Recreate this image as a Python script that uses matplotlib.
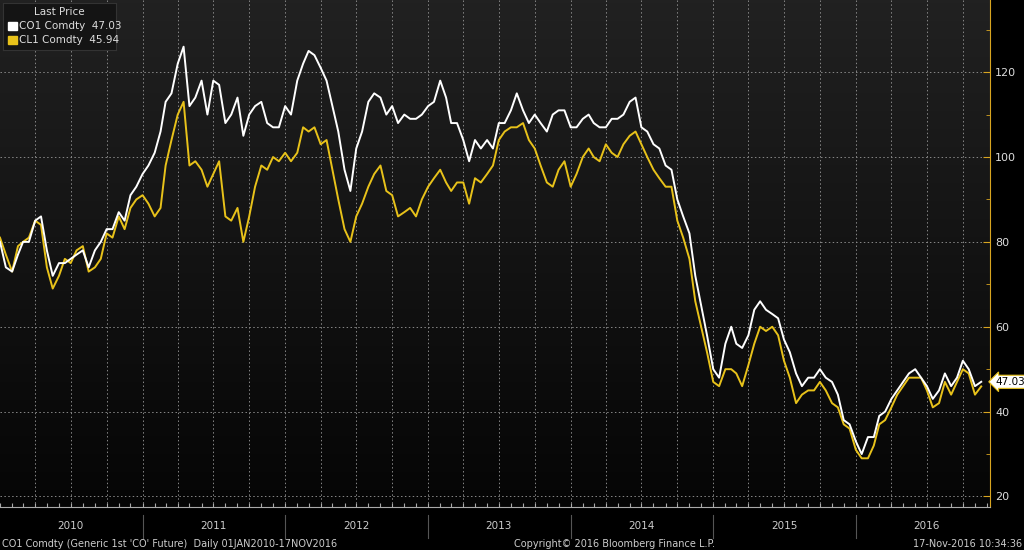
import numpy as np
import pandas as pd
import matplotlib
matplotlib.use("Agg")
import matplotlib.pyplot as plt
import matplotlib.dates as mdates

# semi-monthly readings (1st and 16th of each month), Jan 2010 - Nov 2016
brent = [
    80, 74, 73, 77, 80, 80, 85, 86, 78, 72, 75, 75, 76, 77, 78, 74, 78, 80, 83, 83, 87, 85, 91, 93,
    96, 98, 101, 106, 113, 115, 122, 126, 112, 114, 118, 110, 118, 117, 108, 110, 114, 105, 110, 112, 113, 108, 107, 107,
    112, 110, 118, 122, 125, 124, 121, 118, 112, 106, 97, 92, 102, 106, 113, 115, 114, 110, 112, 108, 110, 109, 109, 110,
    112, 113, 118, 114, 108, 108, 104, 99, 104, 102, 104, 102, 108, 108, 111, 115, 111, 108, 110, 108, 106, 110, 111, 111,
    107, 107, 109, 110, 108, 107, 107, 109, 109, 110, 113, 114, 107, 106, 103, 102, 98, 97, 90, 86, 82, 72, 65, 58,
    50, 48, 56, 60, 56, 55, 58, 64, 66, 64, 63, 62, 57, 54, 49, 46, 48, 48, 50, 48, 47, 44, 38, 37,
    33, 30, 34, 34, 39, 40, 43, 45, 47, 49, 50, 48, 46, 43, 45, 49, 46, 48, 52, 50, 46, 47.03,
]
wti = [
    81, 77, 73, 79, 80, 81, 85, 84, 74, 69, 72, 76, 75, 78, 79, 73, 74, 76, 82, 81, 86, 83, 88, 90,
    91, 89, 86, 88, 98, 104, 110, 113, 98, 99, 97, 93, 96, 99, 86, 85, 88, 80, 86, 93, 98, 97, 100, 99,
    101, 99, 101, 107, 106, 107, 103, 104, 97, 90, 83, 80, 86, 89, 93, 96, 98, 92, 91, 86, 87, 88, 86, 90,
    93, 95, 97, 94, 92, 94, 94, 89, 95, 94, 96, 98, 104, 106, 107, 107, 108, 104, 102, 98, 94, 93, 97, 99,
    93, 96, 100, 102, 100, 99, 103, 101, 100, 103, 105, 106, 103, 100, 97, 95, 93, 93, 85, 81, 76, 66, 60, 54,
    47, 46, 50, 50, 49, 46, 51, 56, 60, 59, 60, 58, 52, 48, 42, 44, 45, 45, 47, 45, 42, 41, 37, 36,
    31, 29, 29, 32, 37, 38, 41, 44, 46, 48, 48, 48, 45, 41, 42, 47, 44, 47, 50, 49, 44, 45.94,
]
months = pd.date_range("2010-01-01", "2016-11-01", freq="MS")
dates = []
for m in months:
    dates.append(m)
    dates.append(m + pd.Timedelta(days=15))
dates[-1] = pd.Timestamp("2016-11-17")

years = list(range(2010, 2017))
yticks = [20, 40, 60, 80, 100, 120]

fig = plt.figure(figsize=(10.24, 5.5), dpi=100, facecolor="black")
ax = fig.add_axes([0.0, 0.078, 0.967, 0.922])
ax.set_facecolor("black")
grad = np.linspace(0.13, 0.02, 256).reshape(-1, 1)
ax.imshow(np.dstack([grad, grad, grad]), extent=[0, 1, 0, 1], transform=ax.transAxes,
          aspect="auto", zorder=0)

ax.plot(dates, wti, color="#e8c21a", lw=1.4, zorder=3)
ax.plot(dates, brent, color="white", lw=1.4, zorder=4)

ax.set_xlim(pd.Timestamp("2010-01-01"), pd.Timestamp("2016-12-10"))
ax.set_ylim(17.5, 137)
ax.yaxis.tick_right()
ax.set_yticks(yticks)
ax.set_yticks(range(30, 131, 20), minor=True)
ax.tick_params(axis="y", colors="#d9a520", labelcolor="#dddddd", labelsize=8, length=5, direction="in")
ax.tick_params(axis="y", which="minor", colors="#d9a520", length=3, direction="in")
ax.xaxis.set_major_locator(mdates.MonthLocator())
ax.xaxis.set_major_formatter(plt.NullFormatter())
ax.tick_params(axis="x", colors="#aaaaaa", length=3, direction="in")
for s in ["top", "left"]:
    ax.spines[s].set_visible(False)
ax.spines["right"].set_color("#d9a520")
ax.spines["bottom"].set_color("#aaaaaa")

for y in yticks:
    ax.axhline(y, color="#888888", lw=0.7, ls=(0, (1.5, 2.5)), zorder=1)
for q in pd.date_range("2010-04-01", "2016-10-01", freq="QS"):
    ax.axvline(q, color="#888888", lw=0.7, ls=(0, (1.5, 2.5)), zorder=1)

# year labels and separators under the axis
for yr in years:
    mid = mdates.date2num(pd.Timestamp(f"{yr}-07-01"))
    ax.text(mid, -0.028, str(yr), transform=ax.get_xaxis_transform(), ha="center", va="top",
            color="#cccccc", fontsize=7.5, family="Liberation Sans Narrow")
    if yr > 2010:
        x0 = mdates.date2num(pd.Timestamp(f"{yr}-01-01"))
        ax.plot([x0, x0], [-0.015, -0.06], transform=ax.get_xaxis_transform(),
                color="#555555", lw=0.8, clip_on=False)

# last price tag
ax.annotate("47.03", xy=(1.0, brent[-1]), xycoords=("axes fraction", "data"), xytext=(4, 0),
            textcoords="offset points", va="center", ha="left", fontsize=7.5, color="black",
            bbox=dict(boxstyle="larrow,pad=0.15", fc="white", ec="#e8c21a", lw=0.8),
            annotation_clip=False)

# legend box
lg = fig.add_axes([0.003, 0.91, 0.11, 0.085])
lg.set_facecolor("#141414")
lg.set_xticks([]); lg.set_yticks([])
for s in lg.spines.values():
    s.set_color("#333333")
lg.set_xlim(0, 1); lg.set_ylim(0, 1)
lg.text(0.5, 0.8, "Last Price", ha="center", va="center", color="#dddddd", fontsize=7.5)
lg.add_patch(plt.Rectangle((0.04, 0.42), 0.08, 0.17, color="white"))
lg.text(0.14, 0.5, "CO1 Comdty  47.03", va="center", color="#dddddd", fontsize=7.5)
lg.add_patch(plt.Rectangle((0.04, 0.12), 0.08, 0.17, color="#e8c21a"))
lg.text(0.14, 0.2, "CL1 Comdty  45.94", va="center", color="#dddddd", fontsize=7.5)

fn = dict(color="#cccccc", fontsize=7, family="Liberation Sans Narrow")
fig.text(0.002, 0.006, "CO1 Comdty (Generic 1st 'CO' Future)  Daily 01JAN2010-17NOV2016", **fn)
fig.text(0.6, 0.006, "Copyright\u00a9 2016 Bloomberg Finance L.P.", ha="center", **fn)
fig.text(0.998, 0.006, "17-Nov-2016 10:34:36", ha="right", **fn)

fig.savefig("out.png", dpi=100, facecolor="black")
